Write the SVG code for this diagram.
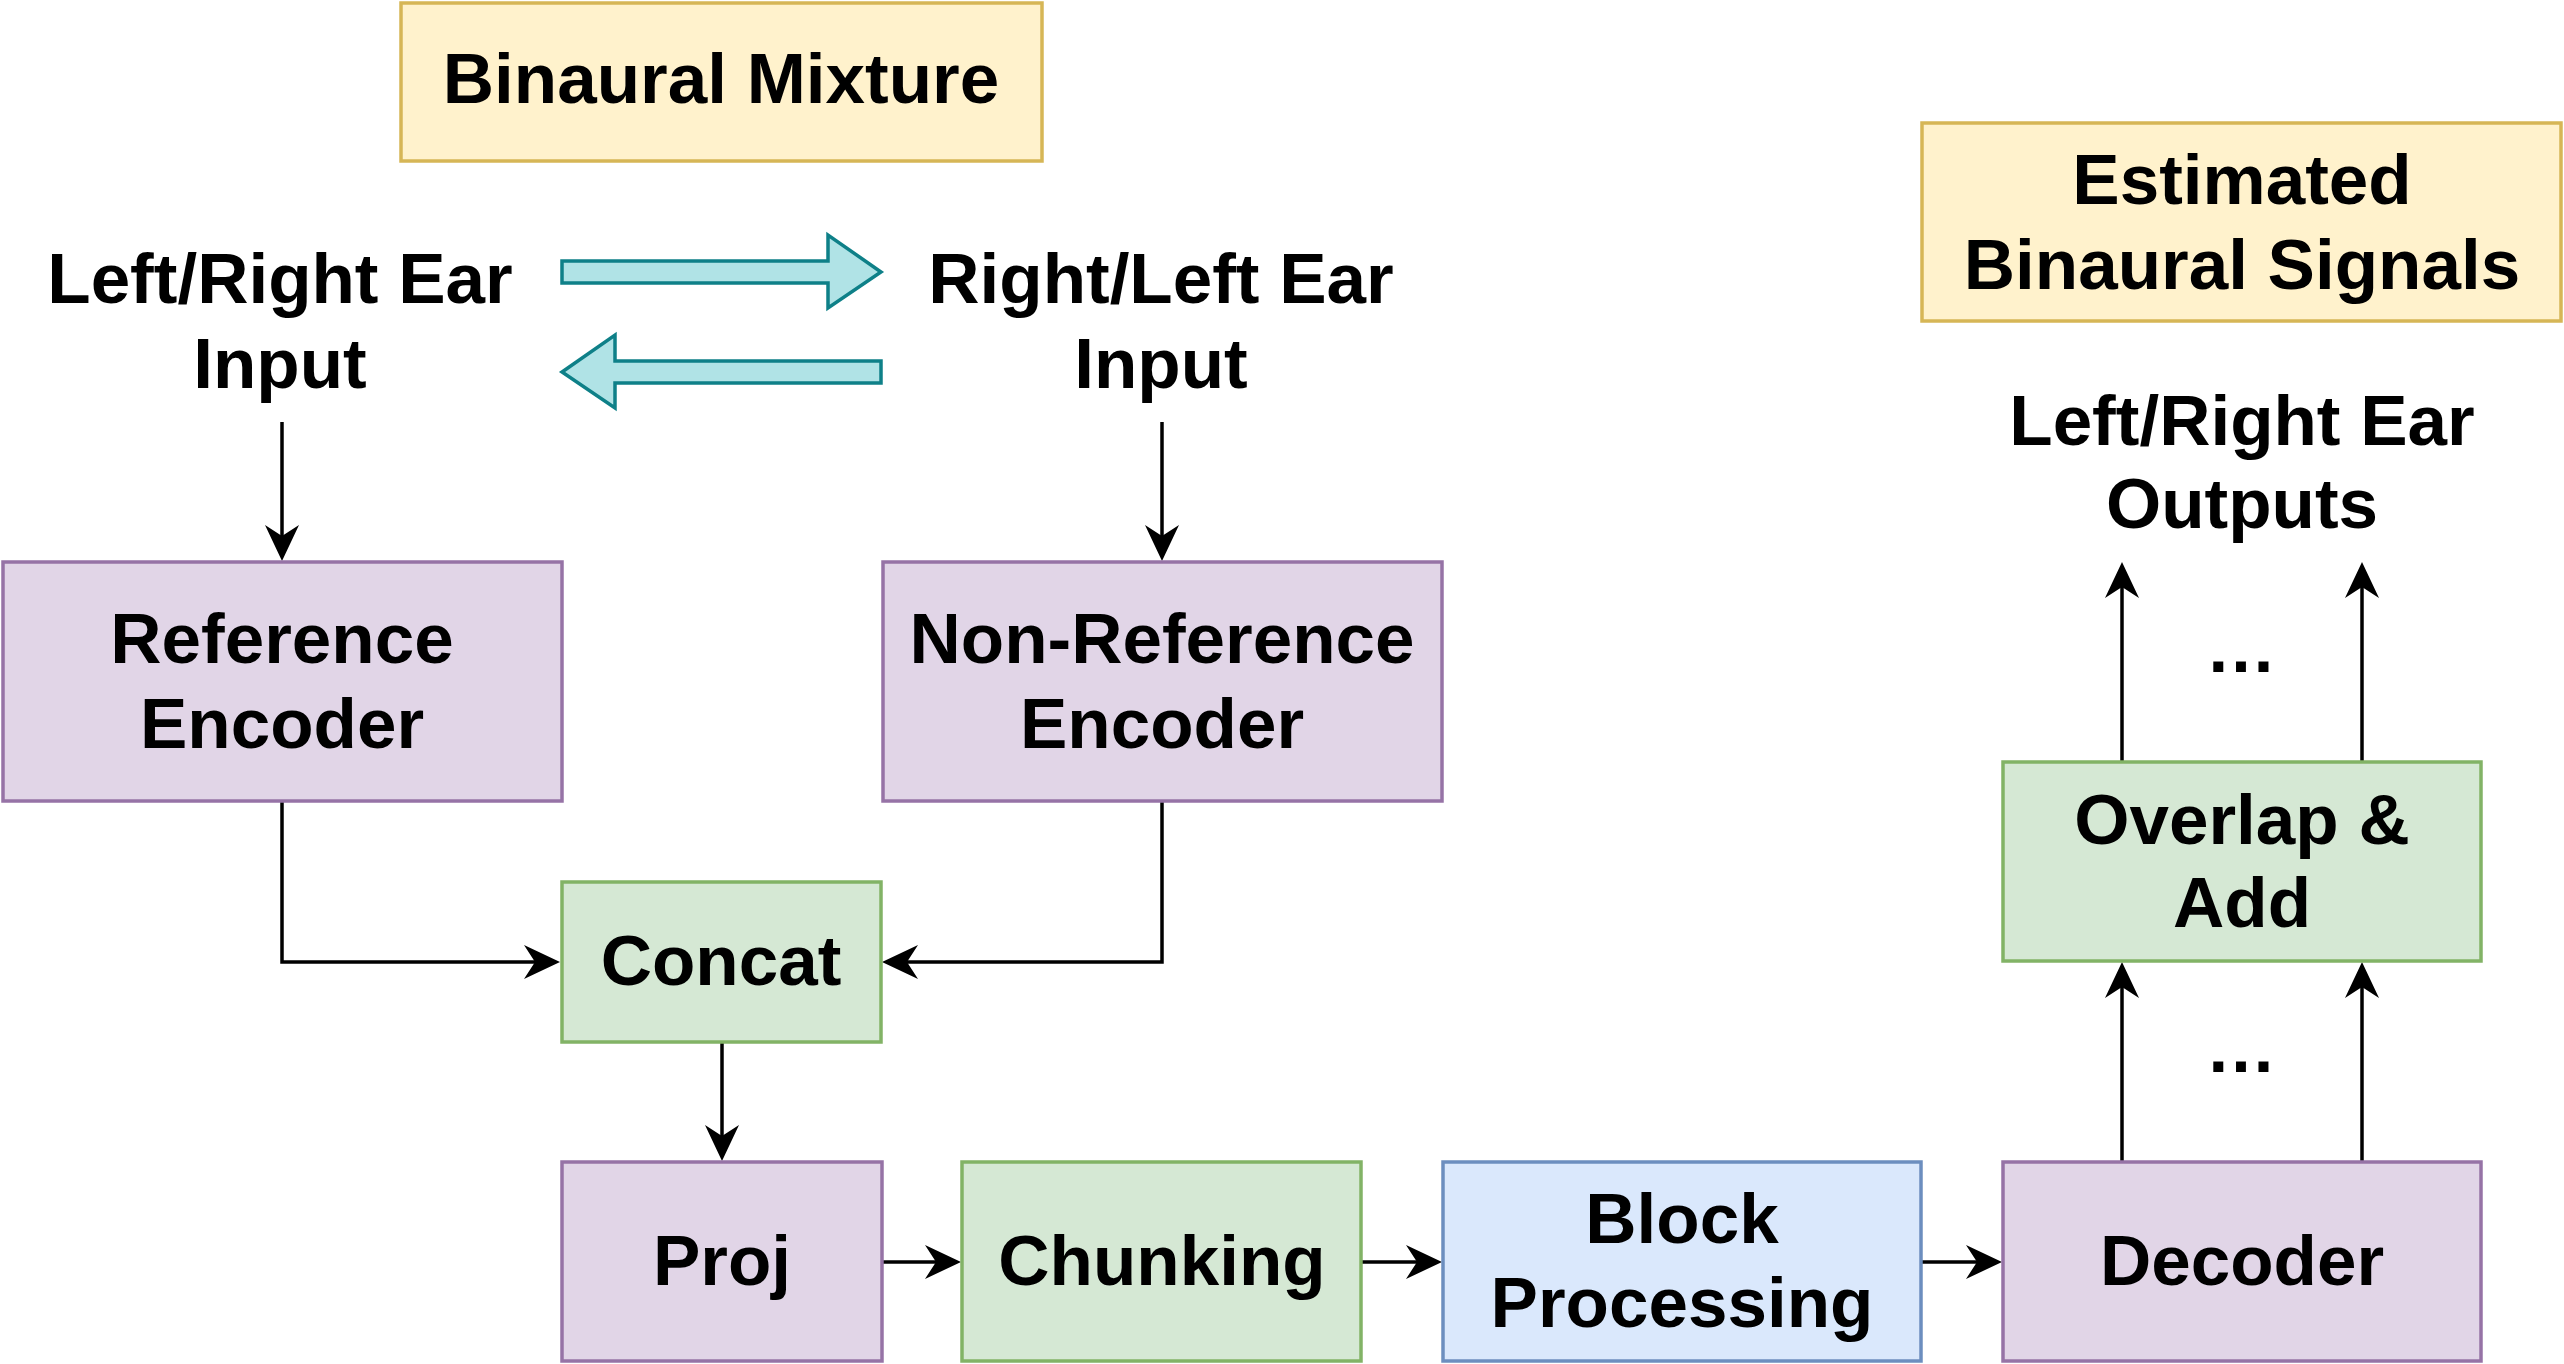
<svg xmlns="http://www.w3.org/2000/svg" width="2564" height="1364" viewBox="0 0 2564 1364">
<style>
text{font-family:"Liberation Sans",Arial,sans-serif;font-weight:bold;font-size:71px;fill:#000;text-anchor:middle}
.p{fill:#e1d5e7;stroke:#9673a6;stroke-width:3.5}
.g{fill:#d5e8d4;stroke:#82b366;stroke-width:3.5}
.b{fill:#dae8fc;stroke:#6c8ebf;stroke-width:3.5}
.y{fill:#fff2cc;stroke:#d6b656;stroke-width:3.5}
.c{fill:none;stroke:#000;stroke-width:3.5;marker-end:url(#ah)}
.t{fill:#b0e3e6;stroke:#0e8088;stroke-width:3.5}
</style>
<defs>
<marker id="ah" markerUnits="userSpaceOnUse" viewBox="-12 -18 38 36" refX="0" refY="0" markerWidth="38" markerHeight="36" orient="auto" overflow="visible">
<path d="M25,0 L-11,-17 L0,0 L-11,17 Z" fill="#000"/>
</marker>
</defs>
<rect width="2564" height="1364" fill="#fff"/>
<g id="connectors">
<path class="c" d="M282,422 V536"/>
<path class="c" d="M1162,422 V536"/>
<path class="c" d="M282,801 V962 H535"/>
<path class="c" d="M1162,801 V962 H907"/>
<path class="c" d="M722,1042 V1136"/>
<path class="c" d="M882,1262 H936"/>
<path class="c" d="M1361,1262 H1417"/>
<path class="c" d="M1921,1262 H1977"/>
<path class="c" d="M2122,1161 V987"/>
<path class="c" d="M2362,1161 V987"/>
<path class="c" d="M2122,761 V587"/>
<path class="c" d="M2362,761 V587"/>
<polygon class="t" points="562,261 828,261 828,235 881,272 828,308 828,283 562,283"/>
<polygon class="t" points="881,361 615,361 615,335 562,372 615,408 615,383 881,383"/>
</g>
<g id="binaural-mixture"><rect class="y" x="401" y="3" width="641" height="158"/><text x="721" y="103">Binaural Mixture</text></g>
<g id="left-input"><text x="280" y="303">Left/Right Ear</text><text x="280" y="388">Input</text></g>
<g id="right-input"><text x="1161" y="303">Right/Left Ear</text><text x="1161" y="388">Input</text></g>
<g id="ref-encoder"><rect class="p" x="3" y="562" width="559" height="239"/><text x="282" y="663">Reference</text><text x="282" y="748">Encoder</text></g>
<g id="nonref-encoder"><rect class="p" x="883" y="562" width="559" height="239"/><text x="1162" y="663">Non-Reference</text><text x="1162" y="748">Encoder</text></g>
<g id="concat"><rect class="g" x="562" y="882" width="319" height="160"/><text x="721" y="985">Concat</text></g>
<g id="proj"><rect class="p" x="562" y="1162" width="320" height="199"/><text x="722" y="1285">Proj</text></g>
<g id="chunking"><rect class="g" x="962" y="1162" width="399" height="199"/><text x="1162" y="1285">Chunking</text></g>
<g id="block-processing"><rect class="b" x="1443" y="1162" width="478" height="199"/><text x="1682" y="1243">Block</text><text x="1682" y="1327">Processing</text></g>
<g id="decoder"><rect class="p" x="2003" y="1162" width="478" height="199"/><text x="2242" y="1285">Decoder</text></g>
<g id="overlap-add"><rect class="g" x="2003" y="762" width="478" height="199"/><text x="2242" y="844">Overlap &amp;</text><text x="2242" y="927">Add</text></g>
<g id="estimated"><rect class="y" x="1922" y="123" width="639" height="198"/><text x="2242" y="204">Estimated</text><text x="2242" y="289">Binaural Signals</text></g>
<g id="outputs"><text x="2242" y="445">Left/Right Ear</text><text x="2242" y="528">Outputs</text></g>
<g id="dots"><text x="2241" y="672">…</text><text x="2241" y="1072">…</text></g>
</svg>
